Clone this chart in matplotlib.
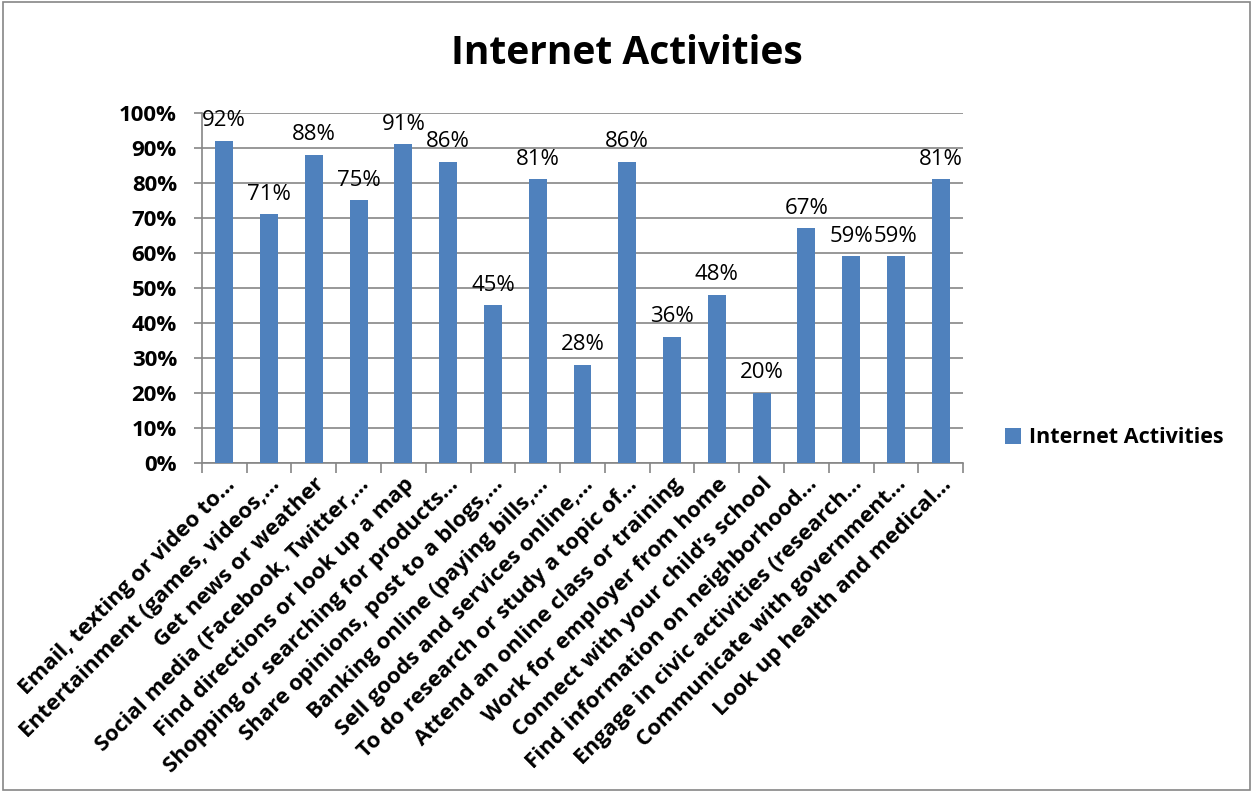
import matplotlib
matplotlib.use("Agg")
import matplotlib.pyplot as plt
from matplotlib.patches import Rectangle
from matplotlib.ticker import MultipleLocator, PercentFormatter

plt.rcParams['font.family'] = ['Open Sans', 'DejaVu Sans']

# data
activities = [
    "Email, texting or video to\u2026",
    "Entertainment (games, videos,\u2026",
    "Get news or weather",
    "Social media (Facebook, Twitter,\u2026",
    "Find directions or look up a map",
    "Shopping or searching for products\u2026",
    "Share opinions, post to a blogs,\u2026",
    "Banking online (paying bills,\u2026",
    "Sell goods and services online,\u2026",
    "To do research or study a topic of\u2026",
    "Attend an online class or training",
    "Work for employer from home",
    "Connect with your child\u2019s school",
    "Find information on neighborhood\u2026",
    "Engage in civic activities (research\u2026",
    "Communicate with government\u2026",
    "Look up health and medical\u2026",
]
shares = [92, 71, 88, 75, 91, 86, 45, 81, 28, 86, 36, 48, 20, 67, 59, 59, 81]

series_name = "Internet Activities"
bar_color = "#4F81BD"
grid_color = "#868686"

fig = plt.figure(figsize=(12.54, 7.92), dpi=100)
ax = fig.add_axes([0.161, 0.4154, 0.607, 0.442])

x = list(range(len(activities)))
bars = ax.bar(x, shares, width=0.4, color=bar_color, label=series_name, zorder=3)

for xi, v in zip(x, shares):
    ax.annotate(f"{v}%", (xi, v), xytext=(0, 7), textcoords="offset points",
                ha="center", va="bottom", fontsize=16)

ax.set_ylim(0, 100)
ax.set_xlim(-0.5, len(activities) - 0.5)
ax.yaxis.set_major_locator(MultipleLocator(10))
ax.yaxis.set_major_formatter(PercentFormatter(decimals=0))
ax.grid(axis="y", color=grid_color, linewidth=1.2, zorder=0)

for s in ["top", "right"]:
    ax.spines[s].set_visible(False)
for s in ["left", "bottom"]:
    ax.spines[s].set_color(grid_color)
    ax.spines[s].set_linewidth(1.2)

# ticks between categories on the x axis
ax.set_xticks([i - 0.5 for i in range(len(activities) + 1)])
ax.set_xticklabels([])
ax.set_xticks(x, minor=True)
ax.set_xticklabels(activities, minor=True, rotation=45, ha="right",
                   rotation_mode="anchor", fontsize=16, fontweight="bold")
ax.tick_params(axis="x", which="major", length=7, color=grid_color, width=1.2)
ax.tick_params(axis="x", which="minor", length=0, pad=8)
ax.tick_params(axis="y", length=6, color=grid_color, width=1.2, labelsize=16, pad=12)
for lbl in ax.get_yticklabels():
    lbl.set_fontweight("bold")

fig.text(0.5, 0.932, "Internet Activities", ha="center", va="center",
         fontsize=28, fontweight="bold")

fig.legend(handles=[bars], labels=[series_name], loc="center left",
           bbox_to_anchor=(0.786, 0.447), frameon=False, handlelength=0.75,
           handleheight=0.75, handletextpad=0.35,
           prop={"size": 15.5, "weight": "bold"})

fig.patches.append(Rectangle((0.002, 0.003), 0.995, 0.994, transform=fig.transFigure,
                             fill=False, edgecolor=grid_color, linewidth=1.2))

fig.savefig("out.png", dpi=100)
